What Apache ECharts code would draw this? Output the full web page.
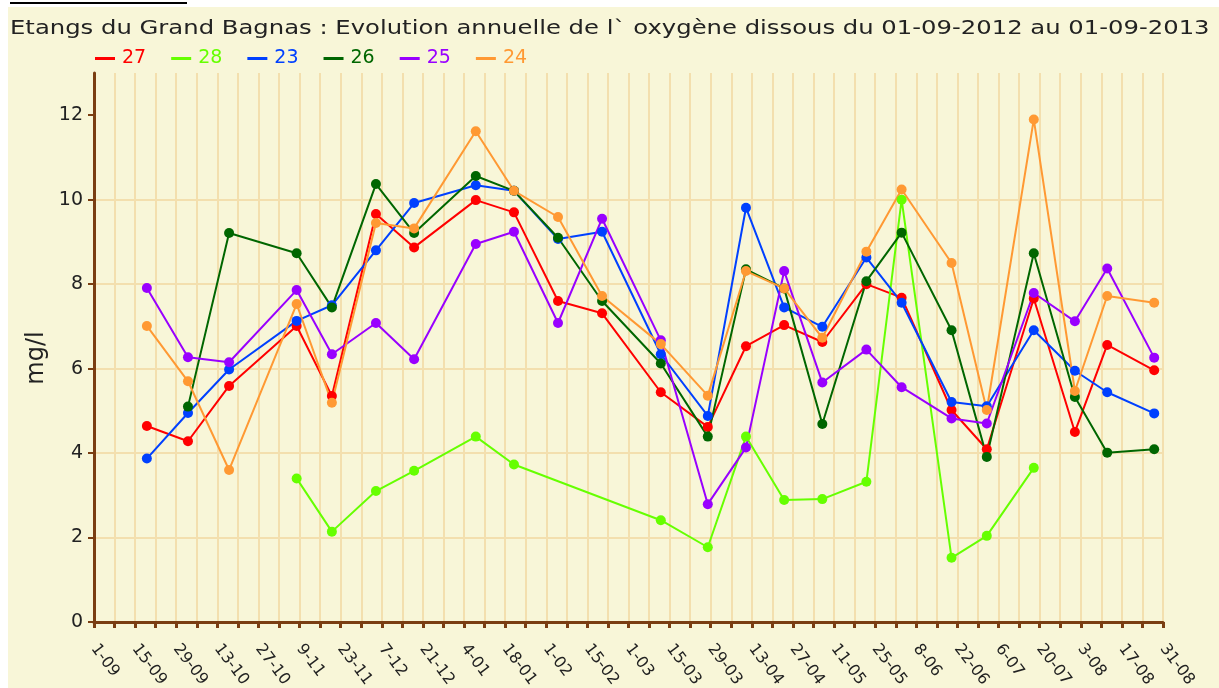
<!DOCTYPE html>
<html>
<head>
<meta charset="utf-8">
<title>Grand Bagnas - oxygène dissous</title>
<script src="https://cdn.jsdelivr.net/npm/echarts@6/dist/echarts.min.js"></script>
<style>
    html, body { margin: 0; padding: 0; background: #ffffff; }
    #report { width: 1219px; height: 688px; }
</style>
</head>
<body>
<div id="report"></div>
<script>
// jours de mesure, comptés depuis le 01-09-2012
var sampleDays = [18, 32, 46, 69, 81, 96, 109, 130, 143, 158, 173, 193, 209, 222, 235, 248, 263, 275, 292, 304, 320, 334, 345, 361];

// valeurs mg/l par station (null = pas de mesure)
var station27 = [4.64, 4.28, 5.59, 7.01, 5.35, 9.66, 8.87, 9.99, 9.70, 7.60, 7.31, 5.44, 4.62, 6.53, 7.03, 6.63, 8.00, 7.68, 5.02, 4.09, 7.66, 4.50, 6.56, 5.96];
var station28 = [null, null, null, 3.40, 2.14, 3.10, 3.58, 4.39, 3.73, null, null, 2.41, 1.77, 4.39, 2.89, 2.91, 3.32, 10.00, 1.52, 2.04, 3.65, null, null, null];
var station23 = [3.87, 4.95, 5.98, 7.13, 7.50, 8.80, 9.92, 10.34, 10.21, 9.07, 9.24, 6.34, 4.88, 9.81, 7.45, 6.99, 8.63, 7.56, 5.21, 5.11, 6.91, 5.95, 5.44, 4.94];
var station26 = [null, 5.10, 9.21, 8.73, 7.45, 10.37, 9.21, 10.56, 10.21, 9.10, 7.60, 6.12, 4.39, 8.35, 7.90, 4.69, 8.07, 9.22, 6.91, 3.91, 8.73, 5.33, 4.01, 4.09];
var station25 = [7.91, 6.27, 6.15, 7.86, 6.34, 7.08, 6.22, 8.95, 9.24, 7.08, 9.55, 6.67, 2.79, 4.13, 8.31, 5.67, 6.45, 5.56, 4.82, 4.70, 7.79, 7.12, 8.37, 6.26];
var station24 = [7.01, 5.70, 3.60, 7.53, 5.19, 9.45, 9.32, 11.62, 10.21, 9.59, 7.72, 6.58, 5.36, 8.31, 7.90, 6.73, 8.77, 10.24, 8.50, 5.02, 11.90, 5.47, 7.72, 7.56];

var stationNames = ['27', '28', '23', '26', '25', '24'];
var stationColors = ['#ff0000', '#66ff00', '#0040ff', '#006600', '#9900ff', '#ff9933'];

// étiquettes de l'axe X, une toutes les 2 semaines
var xTickLabels = ['1-09', '15-09', '29-09', '13-10', '27-10', '9-11', '23-11', '7-12', '21-12', '4-01', '18-01', '1-02', '15-02', '1-03', '15-03', '29-03', '13-04', '27-04', '11-05', '25-05', '8-06', '22-06', '6-07', '20-07', '3-08', '17-08', '31-08'];
var yTicks = [0, 2, 4, 6, 8, 10, 12];

var titleText = 'Etangs du Grand Bagnas : Evolution annuelle de l` oxygène dissous du 01-09-2012 au 01-09-2013';
var axisBrown = '#7a3e12';
var gridColor = '#f3dfae';
var font = 'DejaVu Sans';

function toPoints(values) {
    var pts = [];
    for (var i = 0; i < values.length; i++) {
        if (values[i] !== null) {
            pts.push([sampleDays[i], values[i]]);
        }
    }
    return pts;
}

var allValues = [station27, station28, station23, station26, station25, station24];
var series = [];
var legendData = [];
for (var s = 0; s < stationNames.length; s++) {
    series.push({
        name: stationNames[s],
        type: 'line',
        data: toPoints(allValues[s]),
        symbol: 'circle',
        symbolSize: 10,
        showAllSymbol: true,
        lineStyle: { width: 2, color: stationColors[s] },
        itemStyle: { color: stationColors[s] }
    });
    legendData.push({
        name: stationNames[s],
        textStyle: { color: stationColors[s] }
    });
}

var myChart = echarts.init(document.getElementById('report'));
var option = {
    animation: false,
    color: stationColors,
    graphic: [
        {
            type: 'rect',
            z: -10,
            shape: { x: 8, y: 7, width: 1211, height: 681 },
            style: { fill: '#f8f6d8' }
        },
        {
            type: 'line',
            z: -5,
            shape: { x1: 10, y1: 3, x2: 187, y2: 3 },
            style: { stroke: '#000000', lineWidth: 2 }
        },
        // titre (le texte d'origine est plus large, d'où le scaleX)
        {
            type: 'text',
            x: 10,
            y: 29,
            scaleX: 1.215,
            style: {
                text: titleText,
                x: 0,
                y: 0,
                font: '20px "DejaVu Sans"',
                fill: '#222222',
                verticalAlign: 'middle'
            }
        },
        // libellé de l'axe Y
        {
            type: 'text',
            x: 37,
            y: 358,
            rotation: Math.PI / 2,
            style: {
                text: 'mg/l',
                x: 0,
                y: 0,
                font: '24px "DejaVu Sans"',
                fill: '#222222',
                align: 'center',
                verticalAlign: 'middle'
            }
        }
    ],
    legend: {
        data: legendData,
        left: 95,
        top: 49,
        padding: 0,
        icon: 'rect',
        itemWidth: 20,
        itemHeight: 3,
        itemGap: 25,
        textStyle: {
            fontFamily: font,
            fontSize: 19,
            padding: [0, 0, 0, 2]
        }
    },
    grid: {
        left: 94,
        right: 56,
        top: 73,
        bottom: 66,
        outerBoundsMode: 'none'
    },
    xAxis: {
        type: 'value',
        min: 0,
        max: 364,
        interval: 7,
        axisLine: { onZero: false, lineStyle: { color: axisBrown, width: 3 } },
        axisTick: { show: true, length: 6, lineStyle: { color: axisBrown, width: 3 } },
        splitLine: { show: true, lineStyle: { color: gridColor, width: 2 } },
        axisLabel: {
            rotate: -53,
            margin: 24,
            fontFamily: font,
            fontSize: 16,
            color: '#222222',
            showMinLabel: true,
            showMaxLabel: true,
            formatter: function (value) {
                if (value % 14 !== 0) {
                    return '';
                }
                return xTickLabels[value / 14];
            }
        }
    },
    yAxis: {
        type: 'value',
        min: 0,
        max: 13,
        interval: 2,
        axisLine: { show: true, lineStyle: { color: axisBrown, width: 3 } },
        axisTick: { show: true, length: 6, customValues: yTicks, lineStyle: { color: axisBrown, width: 2 } },
        splitLine: { show: true, showMaxLine: false, lineStyle: { color: gridColor, width: 2 } },
        axisLabel: {
            customValues: yTicks,
            margin: 11,
            fontFamily: font,
            fontSize: 19,
            color: '#222222'
        }
    },
    series: series
};
myChart.setOption(option);
</script>
</body>
</html>
